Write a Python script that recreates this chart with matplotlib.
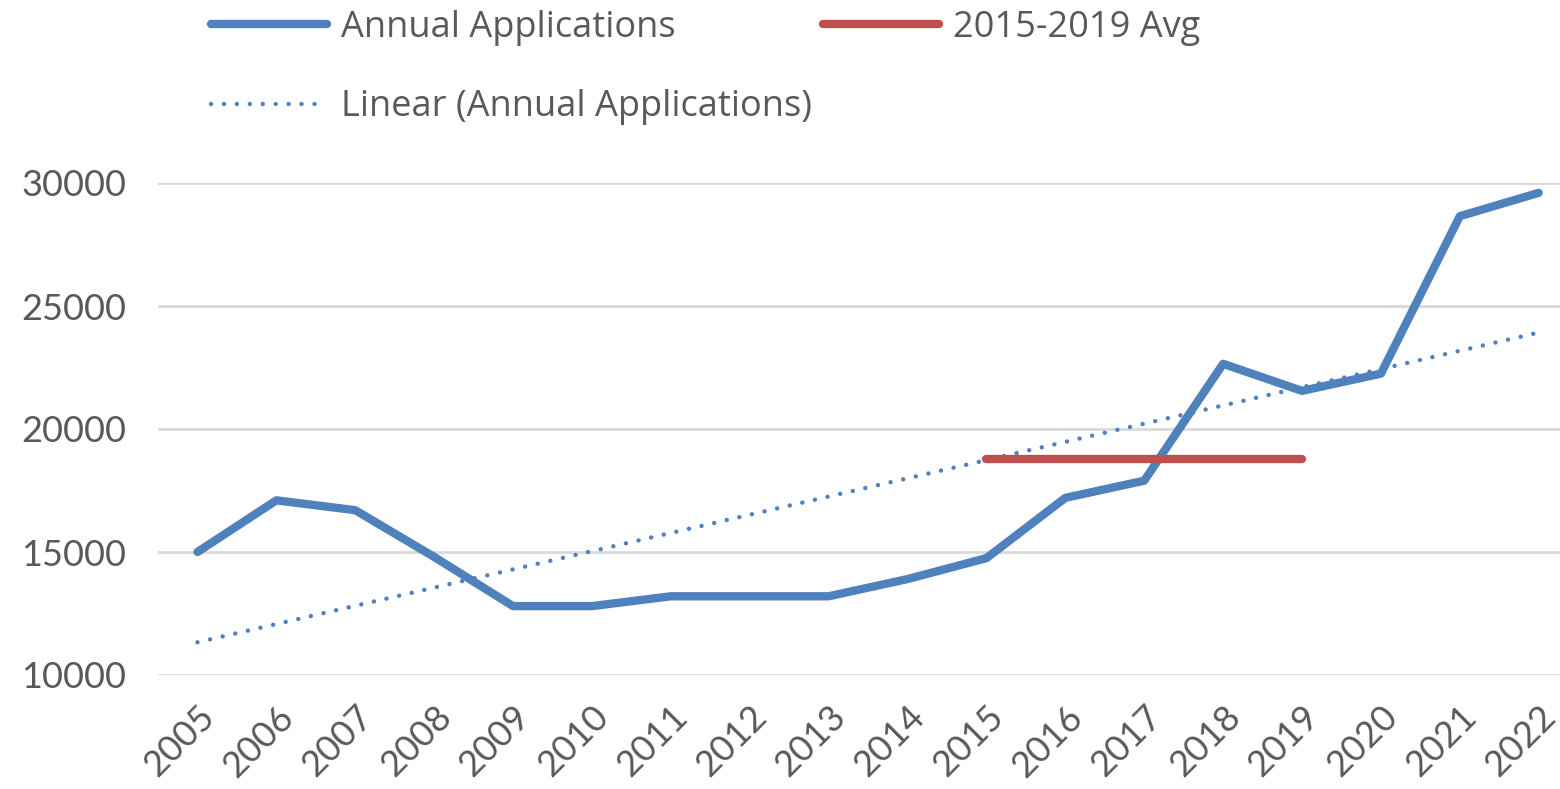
import matplotlib.pyplot as plt
import numpy as np
from matplotlib.lines import Line2D

years = list(range(2005, 2023))
applications = [15000, 17100, 16700, 14800, 12800, 12800, 13200, 13200, 13200,
                13900, 14750, 17200, 17900, 22650, 21550, 22250, 28650, 29600]
avg_years = [2015, 2019]
avg_value = 18800
y_ticks = [10000, 15000, 20000, 25000, 30000]

BLUE = "#4F81BD"
RED = "#C0504D"
GREY_TEXT = "#595959"
GRID = "#D9D9D9"
DOTS = (0, (0.01, 2.9))

plt.rcParams["font.family"] = ["Lato", "DejaVu Sans"]

fig = plt.figure(figsize=(15.6, 7.89), dpi=100)
ax = fig.add_axes([158 / 1560, 1 - 675 / 789, 1 - 158 / 1560, (675 - 183) / 789])

x = np.arange(len(years))
ax.plot(x, applications, color=BLUE, lw=6, solid_capstyle="round",
        solid_joinstyle="round", clip_on=False, zorder=3)

i0, i1 = years.index(avg_years[0]), years.index(avg_years[1])
ax.plot([i0, i1], [avg_value, avg_value], color=RED, lw=6,
        solid_capstyle="round", zorder=4)

# linear trendline, as Excel draws it
slope, intercept = np.polyfit(x, applications, 1)
ax.plot(x, slope * x + intercept, color=BLUE, lw=3.2,
        linestyle=DOTS, dash_capstyle="round", zorder=2)

ax.set_xlim(-0.5, 17.27)
ax.set_ylim(10000, 30000)
ax.set_yticks(y_ticks)
ax.set_yticklabels([str(v) for v in y_ticks], fontsize=26, color=GREY_TEXT)
ax.set_xticks(x)
ax.set_xticklabels([str(y) for y in years], fontsize=26, color=GREY_TEXT,
                   rotation=45, ha="right", rotation_mode="anchor")
ax.tick_params(axis="both", length=0)
ax.tick_params(axis="y", pad=23)
ax.tick_params(axis="x", pad=18)
ax.grid(axis="y", color=GRID, lw=2)
ax.set_axisbelow(True)
for s in ax.spines.values():
    s.set_visible(False)

leg_kw = dict(loc="upper left", frameon=False, borderpad=0, borderaxespad=0,
              handlelength=3.2, handletextpad=0.4, labelspacing=1.2,
              labelcolor=GREY_TEXT, prop={"family": ["Open Sans", "DejaVu Sans"], "size": 26})
leg1 = fig.legend(
    [Line2D([], [], color=BLUE, lw=6, solid_capstyle="round"),
     Line2D([], [], color=BLUE, lw=3.2, linestyle=DOTS, dash_capstyle="round")],
    ["Annual Applications", "Linear (Annual Applications)"],
    bbox_to_anchor=(211 / 1560, 1 - 10 / 789), **leg_kw)
leg2 = fig.legend(
    [Line2D([], [], color=RED, lw=6, solid_capstyle="round")],
    ["2015-2019 Avg"],
    bbox_to_anchor=(823 / 1560, 1 - 10 / 789), **leg_kw)

fig.savefig("out.png", dpi=100)
